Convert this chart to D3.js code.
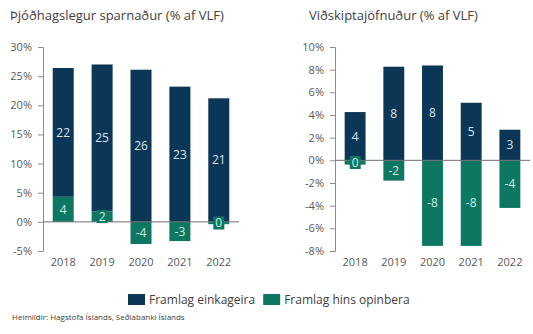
<!DOCTYPE html>
<html>
<head>
<meta charset="utf-8">
<script src="https://cdn.jsdelivr.net/npm/d3@7"></script>
<style>
  body { margin: 0; background: #fff; }
  svg { display: block; font-family: "Open Sans", "Noto Sans", sans-serif; }
</style>
</head>
<body>
<svg id="chart" width="533" height="334"></svg>
<script>
// data
const years = ["2018", "2019", "2020", "2021", "2022"];

const savingPrivate = [22.1, 25.2, 26.1, 23.2, 21.2];
const savingPublic = [4.3, 1.8, -3.8, -3.3, -0.4];
const savingTicks = [-5, 0, 5, 10, 15, 20, 25, 30];

const currentPrivate = [4.26, 8.26, 8.37, 5.08, 2.7];
const currentPublic = [-0.38, -1.79, -7.55, -7.55, -4.2];
const currentTicks = [-8, -6, -4, -2, 0, 2, 4, 6, 8, 10];

const seriesNames = ["Framlag einkageira", "Framlag hins opinbera"];
const colors = ["#0c3656", "#0e7762"];
const labelColors = ["#d6e4ef", "#c9efe0"];

const svg = d3.select("#chart");

// one stacked panel: private goes up from 0 (or on top of positive public), public from 0
function drawPanel(opts) {
    const g = svg.append("g");

    const x = d3.scaleBand()
        .domain(years)
        .range([opts.x0, opts.x1])
        .paddingInner(0.46)
        .paddingOuter(0.25);

    const y = d3.scaleLinear()
        .domain(opts.domain)
        .range([251, 47]);

    // title
    g.append("text")
        .attr("x", opts.titleX)
        .attr("y", 20)
        .attr("fill", "#404040")
        .style("font-size", "13px")
        .text(opts.title);

    // y axis
    const yAxis = d3.axisLeft(y)
        .tickValues(opts.ticks)
        .tickSize(5)
        .tickPadding(6)
        .tickFormat(d => d + "%");
    const ya = g.append("g")
        .attr("transform", `translate(${opts.x0},0)`)
        .call(yAxis);
    ya.select(".domain").attr("stroke", "#8c8c8c");
    ya.selectAll(".tick line").attr("stroke", "#8c8c8c");
    ya.selectAll(".tick text")
        .attr("fill", "#595959")
        .style("font-size", "11px")
        .style("font-family", "Open Sans, sans-serif");

    // stack segments
    const segs = [];
    years.forEach((yr, i) => {
        const pub = opts.pub[i];
        const priv = opts.priv[i];
        const privBase = pub > 0 ? pub : 0;
        segs.push({ yr, s: 0, v0: privBase, v1: privBase + priv, val: priv });
        segs.push({ yr, s: 1, v0: 0, v1: pub, val: pub });
    });

    g.selectAll("rect.bar")
        .data(segs)
        .enter()
        .append("rect")
        .attr("class", "bar")
        .attr("x", d => x(d.yr))
        .attr("width", x.bandwidth())
        .attr("y", d => y(Math.max(d.v0, d.v1)))
        .attr("height", d => Math.abs(y(d.v0) - y(d.v1)))
        .attr("fill", d => colors[d.s]);

    // zero line
    g.append("line")
        .attr("x1", opts.x0)
        .attr("x2", opts.x1)
        .attr("y1", y(0))
        .attr("y2", y(0))
        .attr("stroke", "#6f6f6f")
        .attr("stroke-width", 1);

    // year labels
    g.selectAll("text.year")
        .data(years)
        .enter()
        .append("text")
        .attr("class", "year")
        .attr("x", d => x(d) + x.bandwidth() / 2)
        .attr("y", 266)
        .attr("text-anchor", "middle")
        .attr("fill", "#595959")
        .style("font-size", "11px")
        .text(d => d);

    // data labels, with a box in the series colour (shows on small bars)
    const lab = g.selectAll("g.lab")
        .data(segs)
        .enter()
        .append("g")
        .attr("class", "lab")
        .attr("transform", d => `translate(${x(d.yr) + x.bandwidth() / 2},${y((d.v0 + d.v1) / 2)})`);

    lab.append("text")
        .attr("text-anchor", "middle")
        .attr("dy", "0.36em")
        .attr("fill", d => labelColors[d.s])
        .style("font-size", "12px")
        .text(d => String(Math.round(d.val) || 0));

    lab.each(function(d) {
        const t = d3.select(this).select("text");
        const bb = t.node().getBBox();
        const bh = Math.abs(y(d.v0) - y(d.v1));
        if (bh < 13) {
            d3.select(this).insert("rect", "text")
                .attr("x", bb.x - 2)
                .attr("y", -6.5)
                .attr("width", bb.width + 4)
                .attr("height", 13)
                .attr("fill", colors[d.s]);
        }
    });
}

drawPanel({
    title: "Þjóðhagslegur sparnaður (% af VLF)",
    titleX: 10,
    x0: 43, x1: 239,
    domain: [-5, 30],
    ticks: savingTicks,
    priv: savingPrivate,
    pub: savingPublic
});

drawPanel({
    title: "Viðskiptajöfnuður (% af VLF)",
    titleX: 309,
    x0: 335, x1: 530,
    domain: [-8, 10],
    ticks: currentTicks,
    priv: currentPrivate,
    pub: currentPublic
});

// legend
const legend = svg.append("g").attr("transform", "translate(128,294)");
let lx = 0;
seriesNames.forEach((name, i) => {
    legend.append("rect")
        .attr("x", lx)
        .attr("y", 0)
        .attr("width", 17)
        .attr("height", 11)
        .attr("fill", colors[i]);
    const t = legend.append("text")
        .attr("x", lx + 21)
        .attr("y", 10)
        .attr("fill", "#404040")
        .style("font-size", "12px")
        .text(name);
    lx += 21 + t.node().getComputedTextLength() + 8;
});

// source
svg.append("text")
    .attr("x", 12)
    .attr("y", 320)
    .attr("fill", "#404040")
    .style("font-size", "8px")
    .text("Heimildir: Hagstofa Íslands, Seðlabanki Íslands");
</script>
</body>
</html>
